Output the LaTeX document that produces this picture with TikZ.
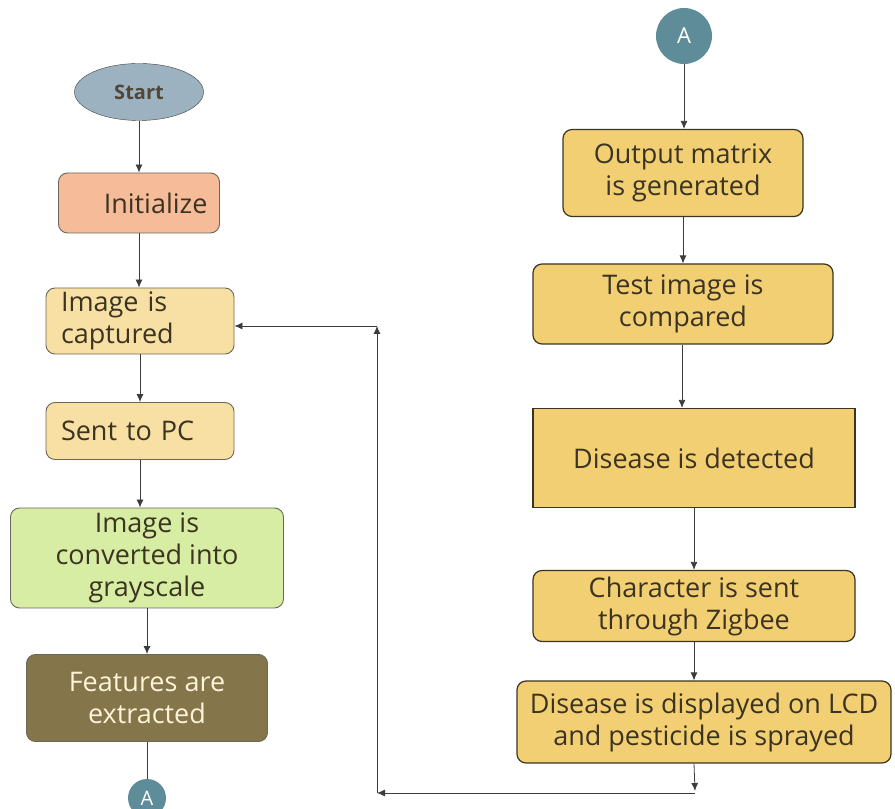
\documentclass[tikz,border=0pt]{standalone}
\usepackage{fontspec}
\setmainfont{Open Sans}
\usepackage{tikz}
\usetikzlibrary{shapes.geometric, arrows.meta}
\definecolor{startgray}{HTML}{9DB2C0}
\definecolor{initorange}{HTML}{F6BB98}
\definecolor{lighttan}{HTML}{F8E0A4}
\definecolor{lightgreen}{HTML}{D8EDA4}
\definecolor{olive}{HTML}{84754A}
\definecolor{cream}{HTML}{FFF3D8}
\definecolor{teal}{HTML}{5E8C98}
\definecolor{gold}{HTML}{F2CF72}
\definecolor{edgebrown}{HTML}{3B3422}
\definecolor{linegray}{HTML}{3C3C3C}
\tikzstyle{startstop} = [ellipse, minimum width=129pt, minimum height=57pt, inner sep=0pt, draw=linegray, fill=startgray, font=\fontsize{20}{22}\selectfont\bfseries, text=edgebrown!90]
\tikzstyle{process}   = [rectangle, rounded corners=9pt, inner sep=0pt, draw=edgebrown!75, line width=0.9pt, font=\fontsize{27}{32}\selectfont, text=edgebrown]
\tikzstyle{decision}  = [process, fill=gold, draw=edgebrown, line width=1.2pt, align=center]
\tikzstyle{connector} = [circle, inner sep=0pt, fill=teal, text=white, font=\fontsize{20}{22}\selectfont]
\tikzstyle{arrow}     = [line width=0.8pt, draw=linegray, -{Latex[length=8pt,width=7pt]}]

\begin{document}
\begin{tikzpicture}[x=1pt, y=1pt, node distance=120pt]
    \useasboundingbox (0,0) rectangle (895,809);
    % Nodes
    %% Left branch
    \node (start)      [startstop] at (139,717) {Start};
    \node (initialize) [process, below of=start, yshift=9pt, fill=initorange, minimum width=161pt, minimum height=60pt, text width=137pt, align=right] {Initialize};
    \node (captured)   [process, below of=initialize, yshift=2pt, xshift=1pt, fill=lighttan, minimum width=188pt, minimum height=66pt, text width=158pt, align=left] {Image is\\captured};
    \node (sent)       [process, below of=captured, yshift=10pt, fill=lighttan, minimum width=188pt, minimum height=57pt, text width=158pt, align=left] {Sent to PC};
    \node (grayscale)  [process, below of=sent, yshift=-7pt, xshift=7pt, fill=lightgreen, minimum width=273pt, minimum height=100pt, align=center] {Image is\\converted into\\grayscale};
    \node (features)   [process, below of=grayscale, yshift=-20pt, fill=olive, text=cream, minimum width=241pt, minimum height=87pt, align=center] {Features are\\extracted};
    \node (a_bottom)   [connector, below of=features, yshift=20pt, minimum size=38pt] {A};
    %% Right branch
    \node (a_top)      [connector, minimum size=56pt, font=\fontsize{22}{24}\selectfont] at (684,773) {A};
    \node (output)     [decision, below of=a_top, yshift=-17pt, xshift=-1pt, minimum width=240pt, minimum height=87pt] {Output matrix\\is generated};
    \node (compared)   [decision, below of=output, yshift=-11pt, minimum width=300pt, minimum height=80pt] {Test image is\\compared};
    \node (detected)   [decision, below of=compared, yshift=-34pt, xshift=11pt, rounded corners=0pt, minimum width=322pt, minimum height=99pt] {Disease is detected};
    \node (zigbee)     [decision, below of=detected, yshift=-28pt, minimum width=322pt, minimum height=71pt] {Character is sent\\through Zigbee};
    \node (sprayed)    [decision, below of=zigbee, yshift=4pt, xshift=10pt, minimum width=374pt, minimum height=82pt] {Disease is displayed on LCD\\and pesticide is sprayed};
    %% Loop corners
    \coordinate (loop_down)  at (695,18);
    \coordinate (loop_right) at (695,16);
    \coordinate (loop_left)  at (377,16);
    \coordinate (loop_top)   at (377,483);

    % Arrows
    \draw [arrow] (start)      -- (initialize);
    \draw [arrow] (initialize) -- (initialize |- captured.north);
    \draw [arrow] (captured)   -- (sent);
    \draw [arrow] (sent.south) -- (sent.south |- grayscale.north);
    \draw [arrow] (grayscale)  -- (features);
    \draw [line width=0.8pt, draw=linegray] (features) -- (a_bottom);
    \draw [arrow] (a_top)      -- (a_top |- output.north);
    \draw [arrow] (output)     -- (output |- compared.north);
    \draw [arrow] ([xshift=-1pt]compared.south) -- ([xshift=-1pt]compared.south |- detected.north);
    \draw [arrow] (detected.south) -- (detected.south |- zigbee.north);
    \draw [arrow] (zigbee.south)   -- (zigbee.south |- sprayed.north);
    \draw [arrow] (zigbee.south |- sprayed.south) -- (loop_down);
    \draw [arrow] (loop_right) -- (loop_left);
    \draw [arrow] (loop_left)  -- (loop_top);
    \draw [arrow] (loop_top)   -- (loop_top -| captured.east);
  \end{tikzpicture}
\end{document}
